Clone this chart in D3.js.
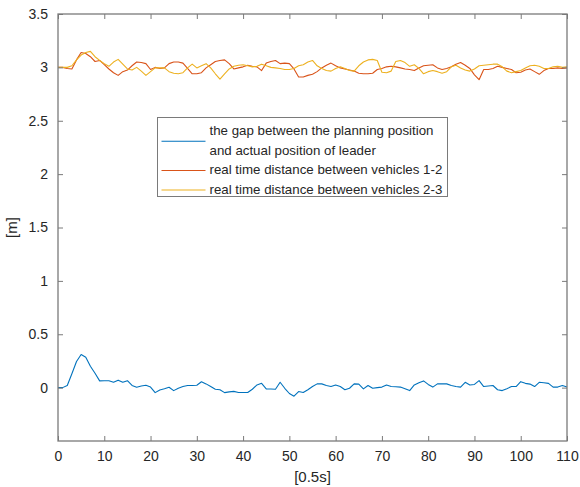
<!DOCTYPE html>
<html>
<head>
<meta charset="utf-8">
<script src="https://cdn.jsdelivr.net/npm/d3@7"></script>
<style>
  html, body { margin: 0; padding: 0; background: #fff; }
  svg { display: block; font-family: "Liberation Sans", Arial, Helvetica, sans-serif; }
</style>
</head>
<body>
<svg id="chart" width="580" height="487"></svg>
<script>
// Sample index (one step = 0.5 s)
const steps = d3.range(0, 111);

// Offset between planned and actual leader position [m]
const leaderGap = [
  0, 0.0, 0.02, 0.13, 0.245, 0.31, 0.285, 0.2, 0.135, 0.063,
  0.065, 0.065, 0.05, 0.07, 0.05, 0.065, 0.02, 0.003, 0.015, 0.022,
  0.005, -0.047, -0.022, -0.01, 0.004, -0.028, -0.005, 0.01, 0.02, 0.02,
  0.022, 0.055, 0.035, 0.01, -0.015, -0.02, -0.047, -0.04, -0.035, -0.045,
  -0.045, -0.045, -0.015, 0.025, 0.04, -0.012, -0.013, -0.015, 0.05, -0.006,
  -0.055, -0.08, -0.037, -0.045, -0.02, 0.01, 0.035, 0.035, 0.02, 0.01,
  0.025, 0.01, -0.02, -0.006, 0.035, 0.033, -0.012, 0.02, -0.006, 0.0,
  0.005, 0.025, 0.01, 0.008, 0.005, -0.01, -0.028, 0.025, 0.045, 0.063,
  0.03, 0.005, 0.035, 0.035, 0.035, 0.02, 0.01, 0.005, 0.05, 0.025,
  0.03, 0.066, 0.01, 0.015, 0.02, -0.02, -0.028, -0.01, 0.01, 0.01,
  0.056, 0.04, 0.033, 0.01, 0.05, 0.045, 0.04, 0.005, 0.005, 0.02,
  0.005
];

// Measured spacing between vehicles 1 and 2 [m]
const dist12 = [
  3.0, 3.0, 2.99, 2.985, 3.07, 3.14, 3.13, 3.10, 3.055, 3.065,
  3.025, 2.985, 2.95, 2.925, 2.96, 2.975, 3.015, 3.05, 3.045, 3.035,
  2.98, 3.0, 2.99, 2.995, 3.035, 3.05, 3.05, 3.04, 2.99, 2.94,
  2.94, 2.95, 2.995, 3.025, 3.055, 3.065, 3.07, 3.035, 2.985, 2.995,
  3.005, 3.02, 3.01, 3.005, 2.97, 3.04, 3.055, 3.065, 3.035, 3.04,
  3.035, 2.985, 2.91, 2.91, 2.925, 2.935, 2.96, 2.995, 3.02, 3.04,
  3.015, 2.995, 2.985, 2.975, 2.965, 2.945, 2.94, 2.94, 2.945, 2.98,
  2.99, 3.005, 3.01, 3.005, 2.995, 2.985, 2.98, 2.97, 2.995, 3.015,
  3.02, 3.025, 2.995, 2.98, 2.99, 3.005, 3.03, 3.045, 3.02, 2.99,
  2.93, 2.885, 2.98, 2.98, 2.99, 3.01, 3.0, 2.99, 2.98, 2.95,
  2.955, 2.975, 2.985, 2.96, 2.935, 2.97, 2.99, 2.99, 2.995, 2.99,
  2.995
];

// Measured spacing between vehicles 2 and 3 [m]
const dist23 = [
  3.0, 3.0, 3.0, 3.015, 3.07, 3.115, 3.14, 3.15, 3.10, 3.065,
  3.035, 3.01, 3.05, 3.075, 3.03, 2.985, 2.975, 3.0, 2.965, 2.925,
  2.96, 2.995, 2.995, 2.995, 2.96, 2.945, 2.94, 2.95, 2.995, 3.03,
  2.995, 3.015, 3.035, 2.995, 2.94, 2.89, 2.94, 2.985, 3.01, 3.02,
  3.025, 3.015, 3.005, 3.01, 3.03, 3.015, 3.0, 2.995, 2.99, 2.98,
  2.98, 2.99, 3.015, 3.025, 3.05, 3.065, 3.015, 2.99, 2.97, 2.965,
  2.99, 3.005, 2.99, 2.97, 2.965, 3.015, 3.05, 3.07, 3.075, 3.065,
  2.955, 2.95, 2.965, 3.055, 3.065, 3.045, 3.01, 3.025, 2.99, 2.94,
  2.96, 2.97, 2.96, 2.945, 2.96, 3.005, 3.02, 2.995, 2.975, 2.965,
  2.985, 3.015, 3.02, 3.025, 3.03, 3.03, 3.005, 2.965, 2.95, 2.96,
  2.97, 2.995, 3.015, 3.02, 3.01, 2.99, 2.99, 3.005, 3.01, 3.0,
  3.005
];

const xTicks = d3.range(0, 111, 10);
const yTicks = [0, 0.5, 1, 1.5, 2, 2.5, 3, 3.5];

const seriesNames = [
  ["the gap between the planning position", "and actual position of leader"],
  ["real time distance between vehicles 1-2"],
  ["real time distance between vehicles 2-3"]
];
const seriesColors = ["#0072BD", "#D95319", "#EDB120"];
const seriesData = [leaderGap, dist12, dist23];

const svg = d3.select("#chart");
const plot = { left: 58, right: 567, top: 14, bottom: 441 };

const x = d3.scaleLinear().domain([0, 110]).range([plot.left, plot.right]);
const y = d3.scaleLinear().domain([-0.5, 3.5]).range([plot.bottom, plot.top]);

const axisColor = "#262626";
const frameColor = "#7a7a7a";
const tickLen = 5;

// Data lines
const line = d3.line().x((d, i) => x(steps[i])).y(d => y(d));
const g = svg.append("g");
seriesData.forEach((data, k) => {
  g.append("path")
    .datum(data)
    .attr("fill", "none")
    .attr("stroke", seriesColors[k])
    .attr("stroke-width", 1.1)
    .attr("stroke-linejoin", "round")
    .attr("d", line);
});

// Axes (box with inward ticks on all sides)
const fmt = d => String(d);
const styleAxis = sel => {
  sel.select(".domain").remove();
  sel.selectAll(".tick line").attr("stroke", frameColor).attr("stroke-width", 1);
  sel.selectAll(".tick text")
    .attr("fill", axisColor)
    .style("font-size", "14px")
    .style("font-family", "'Liberation Sans', Arial, sans-serif");
};

svg.append("g")
  .attr("transform", `translate(0,${plot.bottom})`)
  .call(d3.axisBottom(x).tickValues(xTicks).tickFormat(fmt).tickSizeInner(-tickLen).tickSizeOuter(0).tickPadding(10))
  .call(styleAxis);

svg.append("g")
  .attr("transform", `translate(0,${plot.top})`)
  .call(d3.axisTop(x).tickValues(xTicks).tickFormat("").tickSizeInner(-tickLen).tickSizeOuter(0))
  .call(styleAxis);

svg.append("g")
  .attr("transform", `translate(${plot.left},0)`)
  .call(d3.axisLeft(y).tickValues(yTicks).tickFormat(fmt).tickSizeInner(-tickLen).tickSizeOuter(0).tickPadding(10))
  .call(styleAxis);

svg.append("g")
  .attr("transform", `translate(${plot.right},0)`)
  .call(d3.axisRight(y).tickValues(yTicks).tickFormat("").tickSizeInner(-tickLen).tickSizeOuter(0))
  .call(styleAxis);

// Frame
svg.append("rect")
  .attr("x", plot.left).attr("y", plot.top)
  .attr("width", plot.right - plot.left).attr("height", plot.bottom - plot.top)
  .attr("fill", "none").attr("stroke", frameColor).attr("stroke-width", 1.3);

// Axis titles
svg.append("text")
  .attr("x", (plot.left + plot.right) / 2).attr("y", 482)
  .attr("text-anchor", "middle")
  .attr("fill", axisColor)
  .style("font-size", "15px")
  .text("[0.5s]");

svg.append("text")
  .attr("transform", `translate(17,${(plot.top + plot.bottom) / 2}) rotate(-90)`)
  .attr("text-anchor", "middle")
  .attr("fill", axisColor)
  .style("font-size", "15px")
  .text("[m]");

// Legend
const lg = svg.append("g");
const legend = { x: 157.5, y: 117.5, w: 290, h: 79 };
lg.append("rect")
  .attr("x", legend.x).attr("y", legend.y)
  .attr("width", legend.w).attr("height", legend.h)
  .attr("fill", "#fff").attr("stroke", frameColor).attr("stroke-width", 1);

const rowH = 19.5;
let row = 0;
seriesNames.forEach((lines, k) => {
  const firstRowY = legend.y + 13 + row * rowH;
  const lastRowY = firstRowY + (lines.length - 1) * rowH;
  const ly = (firstRowY + lastRowY) / 2 + 1;
  lg.append("line")
    .attr("x1", legend.x + 4).attr("x2", legend.x + 48)
    .attr("y1", ly).attr("y2", ly)
    .attr("stroke", seriesColors[k]).attr("stroke-width", 1.1);
  lines.forEach((t, j) => {
    lg.append("text")
      .attr("x", legend.x + 52)
      .attr("y", firstRowY + j * rowH)
      .attr("dy", "0.35em")
      .attr("fill", axisColor)
      .style("font-size", "13.3px")
      .text(t);
  });
  row += lines.length;
});
</script>
</body>
</html>
